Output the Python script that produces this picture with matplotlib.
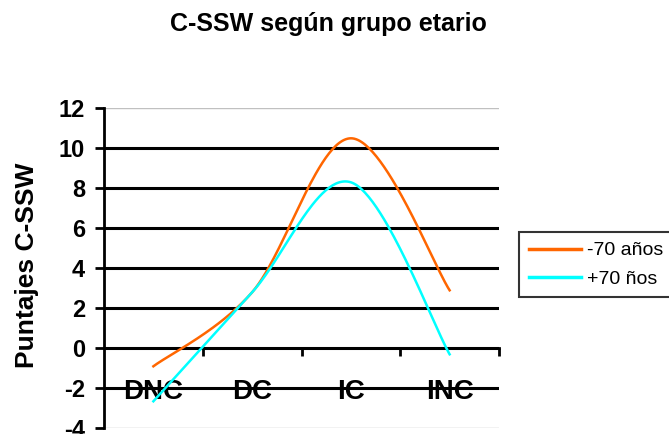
import numpy as np
import matplotlib.pyplot as plt

categorias = ['DNC', 'DC', 'IC', 'INC']
menos_70 = [-0.9, 2.8, 10.5, 2.9]
mas_70 = [-2.65, 2.8, 8.3, -0.3]
series_nombres = ['-70 años', '+70 ños']
colores = ['#FF6600', '#00FFFF']


def curva_suave(y, n=60):
    # Bezier como el suavizado de Excel
    x = np.arange(len(y), dtype=float)
    p = np.column_stack([x, np.asarray(y, dtype=float)])
    pts = np.vstack([p[0], p, p[-1]])
    out = []
    t = np.linspace(0, 1, n)[:, None]
    for i in range(len(p) - 1):
        p0 = pts[i + 1]
        p3 = pts[i + 2]
        c1 = p0 + (pts[i + 2] - pts[i]) / 6
        c2 = p3 - (pts[i + 3] - pts[i + 1]) / 6
        seg = ((1 - t) ** 3) * p0 + 3 * ((1 - t) ** 2) * t * c1 + 3 * (1 - t) * t ** 2 * c2 + t ** 3 * p3
        out.append(seg)
    out = np.vstack(out)
    return out[:, 0], out[:, 1]


plt.rcParams['font.family'] = ['Liberation Sans', 'DejaVu Sans']

fig = plt.figure(figsize=(6.69, 4.34), dpi=100)
ax = fig.add_axes([104 / 669, 1 - 428.3 / 434, 395 / 669, 320 / 434])

ax.set_xlim(-0.5, 3.5)
ax.set_ylim(-4, 12)

for v in range(-2, 11, 2):
    ax.axhline(v, color='black', lw=2.2, zorder=1)
for v in (-4, 12):
    ax.axhline(v, color='#C0C0C0', lw=1, zorder=1)

for datos, nombre, c in zip([menos_70, mas_70], series_nombres, colores):
    xs, ys = curva_suave(datos)
    ax.plot(xs, ys, color=c, lw=1.8, label=nombre, zorder=3, clip_on=False)

for s in ('top', 'right'):
    ax.spines[s].set_visible(False)
ax.spines['left'].set_linewidth(2)
ax.spines['bottom'].set_linewidth(2)
ax.spines['bottom'].set_position(('data', 0))

ax.set_yticks(range(-4, 13, 2))
ax.set_yticklabels([str(v) for v in range(-4, 13, 2)], fontsize=17, fontweight='bold')
ax.tick_params(axis='y', length=6.5, width=2, pad=7)

ax.set_xticks(range(len(categorias)))
ax.set_xticklabels(categorias, fontsize=20, fontweight='bold')
ax.set_xticks([0.5, 1.5, 2.5, 3.5], minor=True)
ax.tick_params(axis='x', which='major', length=0, pad=22)
ax.tick_params(axis='x', which='minor', length=6, width=2, direction='out')
for lbl in ax.get_xticklabels():
    lbl.set_zorder(2)

ax.set_ylabel('Puntajes C-SSW', fontsize=19, fontweight='bold')
ax.yaxis.set_label_coords(-0.165, 0.51)

fig.text(328 / 669, 0.945, 'C-SSW según grupo etario', fontsize=18, fontweight='bold',
         ha='center', va='center')

leg = fig.legend(loc='upper left', bbox_to_anchor=(519 / 669, 1 - 232 / 434),
                 fontsize=14, frameon=True, fancybox=False, handlelength=2.7,
                 handletextpad=0.3, borderpad=0.5, labelspacing=0.55, borderaxespad=0)
leg.get_frame().set_edgecolor('black')
leg.get_frame().set_linewidth(1.5)
for h in leg.get_lines():
    h.set_linewidth(2.5)

fig.savefig('out.png', dpi=100)
